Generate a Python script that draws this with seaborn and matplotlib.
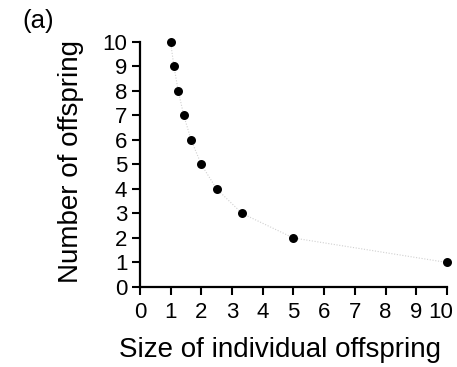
import matplotlib
matplotlib.use("Agg")
import matplotlib.pyplot as plt
import matplotlib.transforms as mtransforms
import seaborn as sns
import pandas as pd
import numpy as np

size = [1.0, 1.11, 1.25, 1.43, 1.67, 2.0, 2.5, 3.33, 5.0, 10.0]
number = [10, 9, 8, 7, 6, 5, 4, 3, 2, 1]
xticks = [0, 1, 2, 3, 4, 5, 6, 7, 8, 9, 10]
yticks = [0, 1, 2, 3, 4, 5, 6, 7, 8, 9, 10]

df = pd.DataFrame({"size": size, "number": number})

sns.set_style("ticks")
plt.rcParams['font.family'] = ['Liberation Sans', 'DejaVu Sans']

fig = plt.figure(figsize=(4.57, 3.67), dpi=100)
ax = fig.add_axes([0.306, 0.218, 0.672, 0.668])

sns.lineplot(data=df, x="size", y="number", ax=ax, color="#d0d0d0",
             linestyle=(0, (1, 1.5)), linewidth=0.8)
sns.scatterplot(data=df, x="size", y="number", ax=ax, color="black",
                s=42, edgecolor="black", linewidth=0, clip_on=False, zorder=5)

ax.set_xlim(0, 10)
ax.set_ylim(0, 10)
ax.set_xticks(xticks)
ax.set_yticks(yticks)
ax.set_xticklabels([str(t) for t in xticks])
ax.set_yticklabels([str(t) for t in yticks])
ax.tick_params(axis="both", labelsize=16, length=6, width=1.5, color="black",
               labelcolor="black")
ax.tick_params(axis="x", pad=5)
ax.tick_params(axis="y", pad=3)
for s in ["left", "bottom"]:
    ax.spines[s].set_linewidth(1.6)
    ax.spines[s].set_color("black")
sns.despine(ax=ax)

# nudge the last x tick label left so it stays inside the figure
last = ax.get_xticklabels()[-1]
last.set_transform(last.get_transform() +
                   mtransforms.ScaledTranslation(-6 / 100, 0, fig.dpi_scale_trans))

ax.set_xlabel("Size of individual offspring", fontsize=20, color="black")
ax.set_ylabel("Number of offspring", fontsize=20, color="black")
ax.xaxis.set_label_coords(0.456, -0.205)
ax.yaxis.set_label_coords(-0.183, 0.51)

fig.text(38 / 457, 1 - 21 / 367, "(a)", fontsize=18.5, ha="center", va="center",
         color="black")

fig.savefig("out.png", dpi=100)
